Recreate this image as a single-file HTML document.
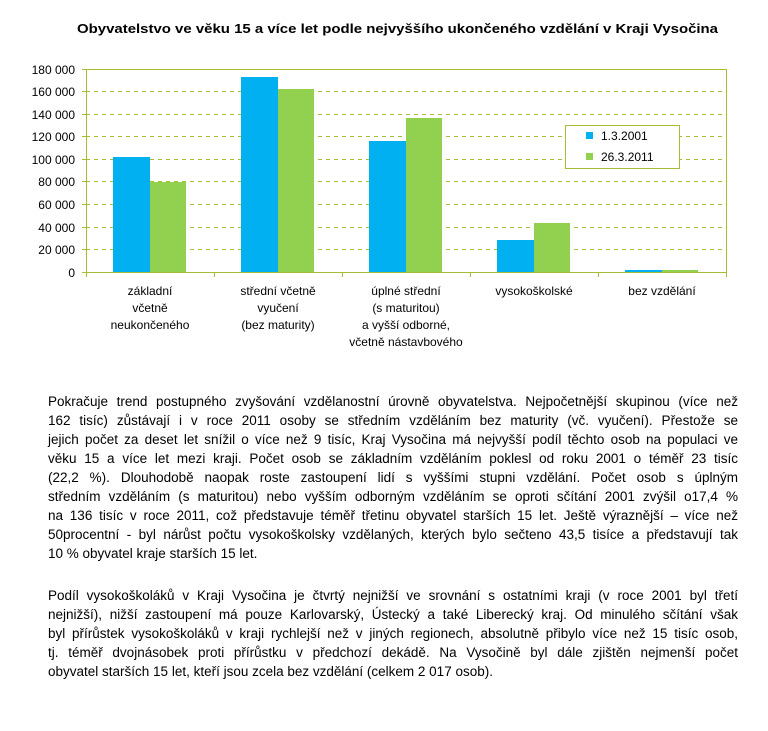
<!DOCTYPE html>
<html><head><meta charset="utf-8"><style>
body{margin:0;background:#fff;width:768px;height:731px;overflow:hidden;font-family:"Liberation Sans",Arial,sans-serif;}
.t{position:absolute;left:48px;width:690px;font-size:13.5px;line-height:19px;color:#000;}
.t div{text-align:justify;text-align-last:justify;white-space:nowrap;}
.t div.l{text-align-last:left;}
</style></head><body>
<svg width="768" height="360" style="position:absolute;left:0;top:0" font-family="Liberation Sans, Arial, sans-serif">
<text x="77" y="33" font-size="13" font-weight="bold" textLength="641" lengthAdjust="spacingAndGlyphs">Obyvatelstvo ve věku 15 a více let podle nejvyššího ukončeného vzdělání v Kraji  Vysočina</text>
<g stroke="#a3be35" stroke-width="1" stroke-dasharray="4,4">
<line x1="86" y1="91.5" x2="726" y2="91.5"/><line x1="86" y1="114.5" x2="726" y2="114.5"/>
<line x1="86" y1="136.5" x2="726" y2="136.5"/><line x1="86" y1="159.5" x2="726" y2="159.5"/>
<line x1="86" y1="181.5" x2="726" y2="181.5"/><line x1="86" y1="204.5" x2="726" y2="204.5"/>
<line x1="86" y1="227.5" x2="726" y2="227.5"/><line x1="86" y1="249.5" x2="726" y2="249.5"/>
</g>
<g fill="#00b0f0">
<rect x="113" y="157" width="37" height="115"/>
<rect x="241" y="77" width="37" height="195"/>
<rect x="369" y="141" width="37" height="131"/>
<rect x="497" y="240" width="37" height="32"/>
<rect x="625" y="270" width="37" height="2"/>
</g>
<g fill="#92d050">
<rect x="150" y="182" width="36" height="90"/>
<rect x="278" y="89" width="36" height="183"/>
<rect x="406" y="118" width="36" height="154"/>
<rect x="534" y="223" width="36" height="49"/>
<rect x="662" y="270" width="36" height="2"/>
</g>
<g stroke="#a3be35" stroke-width="1" fill="none">
<polyline points="86.5,69.5 726.5,69.5 726.5,272.5"/>
<line x1="86.5" y1="69" x2="86.5" y2="277"/>
<line x1="82" y1="272.5" x2="726" y2="272.5"/>
<line x1="214.5" y1="272" x2="214.5" y2="277"/><line x1="342.5" y1="272" x2="342.5" y2="277"/>
<line x1="470.5" y1="272" x2="470.5" y2="277"/><line x1="598.5" y1="272" x2="598.5" y2="277"/>
<line x1="726.5" y1="272" x2="726.5" y2="277"/>
<g><line x1="82" y1="69.5" x2="86" y2="69.5"/><line x1="82" y1="91.5" x2="86" y2="91.5"/><line x1="82" y1="114.5" x2="86" y2="114.5"/><line x1="82" y1="136.5" x2="86" y2="136.5"/><line x1="82" y1="159.5" x2="86" y2="159.5"/><line x1="82" y1="181.5" x2="86" y2="181.5"/><line x1="82" y1="204.5" x2="86" y2="204.5"/><line x1="82" y1="227.5" x2="86" y2="227.5"/><line x1="82" y1="249.5" x2="86" y2="249.5"/></g>
</g>
<g font-size="12" text-anchor="end">
<text x="75" y="74">180 000</text><text x="75" y="96">160 000</text><text x="75" y="119">140 000</text>
<text x="75" y="141">120 000</text><text x="75" y="164">100 000</text><text x="75" y="186">80 000</text>
<text x="75" y="209">60 000</text><text x="75" y="232">40 000</text><text x="75" y="254">20 000</text>
<text x="75" y="277">0</text>
</g>
<g font-size="12" text-anchor="middle">
<text x="150" y="295">základní</text><text x="150" y="312">včetně</text><text x="150" y="329">neukončeného</text>
<text x="278" y="295">střední včetně</text><text x="278" y="312">vyučení</text><text x="278" y="329">(bez maturity)</text>
<text x="406" y="295">úplné střední</text><text x="406" y="312">(s maturitou)</text><text x="406" y="329">a vyšší odborné,</text><text x="406" y="346">včetně nástavbového</text>
<text x="534" y="295">vysokoškolské</text>
<text x="662" y="295">bez vzdělání</text>
</g>
<rect x="565.5" y="125.5" width="114" height="43" fill="#fff" stroke="#a3be35"/>
<rect x="586" y="132" width="7" height="7" fill="#00b0f0"/>
<rect x="586" y="153" width="7" height="7" fill="#92d050"/>
<g font-size="12"><text x="601" y="140">1.3.2001</text><text x="601" y="161">26.3.2011</text></g>
</svg>
<div class="t" style="top:392px">
<div>Pokračuje trend postupného zvyšování vzdělanostní úrovně obyvatelstva. Nejpočetnější skupinou (více než</div>
<div>162 tisíc) zůstávají i v roce 2011 osoby se středním vzděláním bez maturity (vč. vyučení). Přestože se</div>
<div>jejich počet za deset let snížil o více než 9 tisíc, Kraj Vysočina má nejvyšší podíl těchto osob na populaci ve</div>
<div>věku 15 a více let mezi kraji. Počet osob se základním vzděláním poklesl od roku 2001 o téměř 23 tisíc</div>
<div>(22,2 %). Dlouhodobě naopak roste zastoupení lidí s vyššími stupni vzdělání. Počet osob s úplným</div>
<div>středním vzděláním (s maturitou) nebo vyšším odborným vzděláním se oproti sčítání 2001 zvýšil o17,4 %</div>
<div>na 136 tisíc v roce 2011, což představuje téměř třetinu obyvatel starších 15 let. Ještě výraznější – více než</div>
<div>50procentní - byl nárůst počtu vysokoškolsky vzdělaných, kterých bylo sečteno 43,5 tisíce a představují tak</div>
<div class="l">10 % obyvatel kraje starších 15 let.</div>
</div>
<div class="t" style="top:586px">
<div>Podíl vysokoškoláků v Kraji Vysočina je čtvrtý nejnižší ve srovnání s ostatními kraji (v roce 2001 byl třetí</div>
<div>nejnižší), nižší zastoupení má pouze Karlovarský, Ústecký a také Liberecký kraj. Od minulého sčítání však</div>
<div>byl přírůstek vysokoškoláků v kraji rychlejší než v jiných regionech, absolutně přibylo více než 15 tisíc osob,</div>
<div>tj. téměř dvojnásobek proti přírůstku v předchozí dekádě. Na Vysočině byl dále zjištěn nejmenší počet</div>
<div class="l">obyvatel starších 15 let, kteří jsou zcela bez vzdělání (celkem 2 017 osob).</div>
</div>
</body></html>
